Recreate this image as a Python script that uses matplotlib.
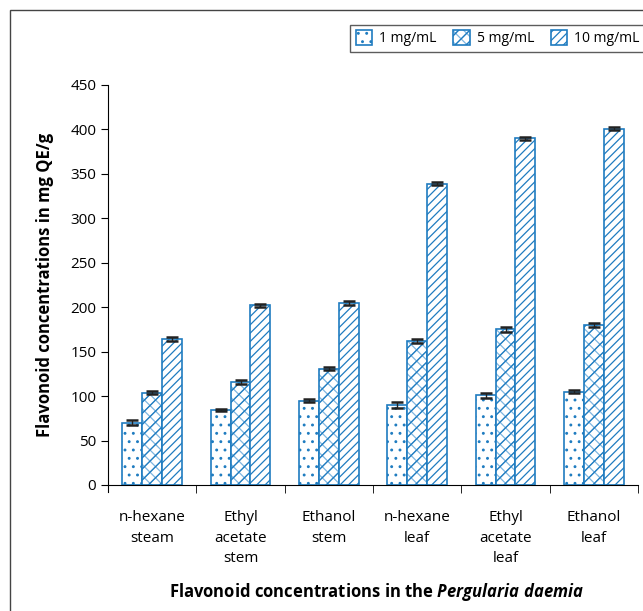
import matplotlib.pyplot as plt
import numpy as np
from matplotlib.patches import Rectangle

plt.rcParams['font.family'] = ['Open Sans', 'DejaVu Sans']
plt.rcParams['mathtext.fontset'] = 'custom'
plt.rcParams['mathtext.it'] = 'Open Sans:italic:bold'
plt.rcParams['hatch.linewidth'] = 0.9

extracts = ["n-hexane\nsteam", "Ethyl\nacetate\nstem", "Ethanol\nstem",
            "n-hexane\nleaf", "Ethyl\nacetate\nleaf", "Ethanol\nleaf"]
conc_1 = [70, 84, 95, 90, 101, 105]
conc_5 = [104, 116, 131, 162, 175, 180]
conc_10 = [164, 202, 205, 339, 390, 401]
err_1 = [3, 1, 2, 3, 3, 1.5]
err_5 = [2, 2, 2, 2, 3, 2]
err_10 = [2, 2, 2, 2, 2, 2]
series_labels = ["1 mg/mL", "5 mg/mL", "10 mg/mL"]

blue = "#1f7cc0"
light = "#7fb6e0"
fig = plt.figure(figsize=(6.43, 6.11), dpi=100)
ax = fig.add_axes([108/643, 1-485/611, 530/643, 400/611])

x = np.arange(len(extracts))
w = 0.225

# 1 mg/mL: dotted
b1 = ax.bar(x - w, conc_1, w, facecolor="white", edgecolor=blue,
            hatch="..", linewidth=1.2, zorder=2)
# 5 mg/mL: light cross hatch with a darker diagonal layer and outline
b2 = ax.bar(x, conc_5, w, facecolor="white", edgecolor=light,
            hatch="xxx", linewidth=0, zorder=2)
b2o = ax.bar(x, conc_5, w, facecolor="none", edgecolor=blue, hatch="///",
             linewidth=1.2, zorder=2)
# 10 mg/mL: diagonal lines
b3 = ax.bar(x + w, conc_10, w, facecolor="white", edgecolor=blue,
            hatch="////", linewidth=1.2, zorder=2)

for off, vals, errs in zip([-w, 0, w], [conc_1, conc_5, conc_10],
                           [err_1, err_5, err_10]):
    ax.errorbar(x + off, vals, yerr=errs, fmt="none", ecolor="#222222",
                elinewidth=1, capsize=4, capthick=1.8, zorder=3)

ax.set_xlim(-0.5, 5.5)
ax.set_ylim(0, 450)
ax.set_yticks(np.arange(0, 451, 50))
ax.set_xticks(x)
ax.set_xticklabels(extracts, fontsize=11, linespacing=1.5)
ax.set_xticks(np.arange(0.5, 5.6, 1), minor=True)
ax.tick_params(axis="x", which="major", length=0, pad=18)
ax.tick_params(axis="x", which="minor", length=6, direction="out")
ax.tick_params(axis="y", labelsize=11, length=5)
for s in ["top", "right"]:
    ax.spines[s].set_visible(False)
ax.spines["left"].set_bounds(-8, 450)

ax.set_ylabel("Flavonoid concentrations in mg QE/g", fontsize=12,
              fontweight="bold", labelpad=12)
fig.text(0.585, 1-592/611, "Flavonoid concentrations in the $\\it{Pergularia\\ daemia}$",
         ha="center", va="center", fontsize=12, fontweight="bold")

fig.legend(handles=[b1, (b2, b2o), b3], labels=series_labels, loc="upper left",
           bbox_to_anchor=(343/643, 1-18/611), ncol=3,
           fontsize=10, frameon=True, fancybox=False, edgecolor="#333333",
           handlelength=1.2, handleheight=1.2, columnspacing=1.2,
           handletextpad=0.5, borderpad=0.4)

fig.add_artist(Rectangle((10/643, -0.1), 1.1, 1.1 - 10/611,
                         transform=fig.transFigure, fill=False,
                         edgecolor="#444444", linewidth=1))

fig.savefig("out.png", dpi=100)
